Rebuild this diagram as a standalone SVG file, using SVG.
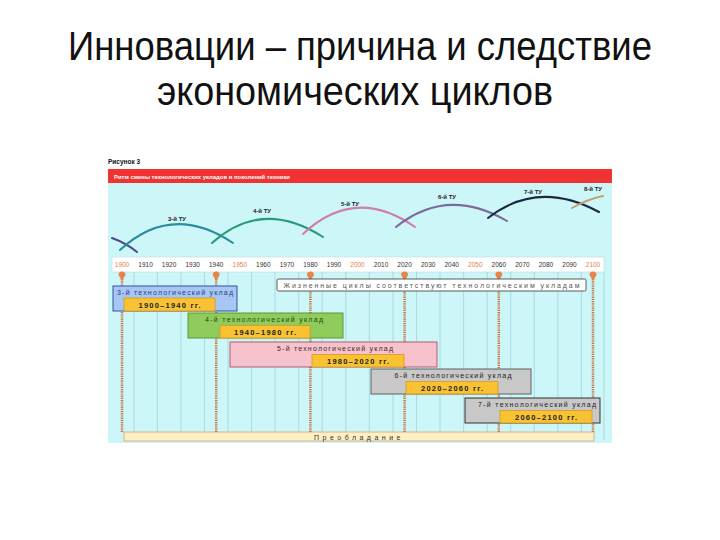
<svg xmlns="http://www.w3.org/2000/svg" width="720" height="540" viewBox="0 0 720 540">
<style>
.title{font-family:"Liberation Sans","DejaVu Sans",sans-serif;font-size:40px;fill:#111}
.sm{font-family:"Liberation Sans","DejaVu Sans",sans-serif}
.yr{font-size:6.5px;fill:#333;text-anchor:middle}
.yo{fill:#e0804a}
.lab{font-size:6px;font-weight:bold;fill:#222;text-anchor:middle}
.bt{font-size:7px;text-anchor:middle}
.per{font-size:7.5px;font-weight:bold;fill:#222;text-anchor:middle}
.inner{fill:#f8c232;stroke:#d89a20;stroke-width:0.8}
.grid{stroke:#9fd4dc;stroke-width:0.8}
.pin{stroke:#c4703c;stroke-width:2.5;stroke-dasharray:1.2 1}
.arc{fill:none;stroke-width:2;stroke-linecap:round}
</style>
<rect width="720" height="540" fill="#fff"/>
<text class="title" x="360" y="60" text-anchor="middle" textLength="584" lengthAdjust="spacingAndGlyphs">Инновации – причина и следствие</text>
<text class="title" x="355" y="105" text-anchor="middle" textLength="396" lengthAdjust="spacingAndGlyphs">экономических циклов</text>

<g id="header">
<text class="sm" x="108" y="164" font-size="6.5" font-weight="bold" fill="#111">Рисунок 3</text>
<rect x="108" y="169" width="504" height="14" fill="#f03232"/>
<text class="sm" x="114" y="179" font-size="6.2" font-weight="bold" fill="#fff" textLength="176" lengthAdjust="spacingAndGlyphs">Ритм смены технологических укладов и поколений техники</text>
</g>
<rect x="108" y="183" width="504" height="260" fill="#ccf6f8"/>

<g id="grid">
<line class="grid" x1="134" y1="272" x2="134" y2="440"/><line class="grid" x1="157.4" y1="272" x2="157.4" y2="440"/><line class="grid" x1="181" y1="272" x2="181" y2="440"/><line class="grid" x1="204.5" y1="272" x2="204.5" y2="440"/><line class="grid" x1="228" y1="272" x2="228" y2="440"/><line class="grid" x1="251.6" y1="272" x2="251.6" y2="440"/><line class="grid" x1="275" y1="272" x2="275" y2="440"/><line class="grid" x1="298.7" y1="272" x2="298.7" y2="440"/><line class="grid" x1="322.2" y1="272" x2="322.2" y2="440"/><line class="grid" x1="345.8" y1="272" x2="345.8" y2="440"/><line class="grid" x1="369.4" y1="272" x2="369.4" y2="440"/><line class="grid" x1="393" y1="272" x2="393" y2="440"/><line class="grid" x1="416.5" y1="272" x2="416.5" y2="440"/><line class="grid" x1="440" y1="272" x2="440" y2="440"/><line class="grid" x1="463.6" y1="272" x2="463.6" y2="440"/><line class="grid" x1="487.2" y1="272" x2="487.2" y2="440"/><line class="grid" x1="510.7" y1="272" x2="510.7" y2="440"/><line class="grid" x1="534.3" y1="272" x2="534.3" y2="440"/><line class="grid" x1="557.9" y1="272" x2="557.9" y2="440"/><line class="grid" x1="581.4" y1="272" x2="581.4" y2="440"/><line class="grid" x1="604" y1="272" x2="604" y2="440"/>
</g>

<g id="years">
<rect x="112" y="257" width="492" height="15" fill="#fff" stroke="#b8dde2" stroke-width="0.6"/>
<g class="sm">
<text class="yr yo" x="122" y="267">1900</text><text class="yr" x="145.6" y="267">1910</text><text class="yr" x="169.1" y="267">1920</text><text class="yr" x="192.7" y="267">1930</text><text class="yr" x="216.2" y="267">1940</text><text class="yr yo" x="239.8" y="267">1950</text><text class="yr" x="263.3" y="267">1960</text><text class="yr" x="286.9" y="267">1970</text><text class="yr" x="310.4" y="267">1980</text><text class="yr" x="334" y="267">1990</text><text class="yr yo" x="357.5" y="267">2000</text><text class="yr" x="381.1" y="267">2010</text><text class="yr" x="404.6" y="267">2020</text><text class="yr" x="428.2" y="267">2030</text><text class="yr" x="451.7" y="267">2040</text><text class="yr yo" x="475.3" y="267">2050</text><text class="yr" x="498.8" y="267">2060</text><text class="yr" x="522.4" y="267">2070</text><text class="yr" x="545.9" y="267">2080</text><text class="yr" x="569.5" y="267">2090</text><text class="yr yo" x="593" y="267">2100</text>
</g>
</g>

<g id="bottom-bar">
<rect x="124" y="432" width="470" height="9" fill="#fdf0c4" stroke="#d8a070" stroke-width="0.8"/>
<text class="sm" x="359" y="439.5" font-size="7" fill="#333" text-anchor="middle" letter-spacing="3.5">Преобладание</text>
</g>

<g id="connectors">
<line class="pin" x1="122" y1="279" x2="122" y2="433"/>
<line class="pin" x1="216.2" y1="279" x2="216.2" y2="433"/>
<line class="pin" x1="310.4" y1="279" x2="310.4" y2="433"/>
<line class="pin" x1="404.6" y1="279" x2="404.6" y2="433"/>
<line class="pin" x1="498.8" y1="279" x2="498.8" y2="433"/>
<line class="pin" x1="593" y1="279" x2="593" y2="433"/>
<g fill="#e8844a">
<path d="M118.5,275 a3.5,3.5 0 1 1 7,0 L122,281 Z"/>
<path d="M212.7,275 a3.5,3.5 0 1 1 7,0 L216.2,281 Z"/>
<path d="M306.9,275 a3.5,3.5 0 1 1 7,0 L310.4,281 Z"/>
<path d="M401.1,275 a3.5,3.5 0 1 1 7,0 L404.6,281 Z"/>
<path d="M495.3,275 a3.5,3.5 0 1 1 7,0 L498.8,281 Z"/>
<path d="M589.5,275 a3.5,3.5 0 1 1 7,0 L593,281 Z"/>
</g>
<path class="arc" stroke="#4a4a8a" d="M112,238 Q126,243 137,252"/>
<path class="arc" stroke="#2a8c9c" d="M120,250 Q172,202 233,243"/>
<path class="arc" stroke="#2a9a7a" d="M212,243 Q262,198 323,237"/>
<path class="arc" stroke="#d07ea8" d="M303,234 Q355,185 415,227"/>
<path class="arc" stroke="#7a6a9c" d="M396,227 Q447,186 507,221"/>
<path class="arc" stroke="#1c2840" d="M488,218 Q538,179 599,212"/>
<path class="arc" stroke="#c0a070" d="M572,208 Q588,199 603,196"/>
</g>

<g id="arc-labels" class="sm">
<text class="lab" x="177" y="221">3-й ТУ</text>
<text class="lab" x="262" y="213">4-й ТУ</text>
<text class="lab" x="350" y="206">5-й ТУ</text>
<text class="lab" x="447" y="199">6-й ТУ</text>
<text class="lab" x="533" y="194">7-й ТУ</text>
<text class="lab" x="593" y="191">8-й ТУ</text>
</g>

<g id="note">
<rect x="277" y="279" width="309" height="12" rx="1.5" fill="#fff" stroke="#333" stroke-width="0.8"/>
<text class="sm bt" x="431.5" y="287.5" fill="#555" textLength="296" lengthAdjust="spacing">Жизненные циклы соответствуют технологическим укладам</text>
</g>

<g id="tu3">
<rect x="113" y="286" width="124" height="25" fill="#a8c6f2" stroke="#3050a0" stroke-width="1"/>
<text class="sm bt" x="175" y="295" fill="#1e3c8c" textLength="116" lengthAdjust="spacing">3-й технологический уклад</text>
<rect class="inner" x="124" y="298" width="91" height="13"/>
<text class="sm per" x="169.5" y="307.5" textLength="62" lengthAdjust="spacing">1900–1940 гг.</text>
</g>
<g id="tu4">
<rect x="188" y="313" width="155" height="25" fill="#90cc5c" stroke="#5a9a34" stroke-width="1"/>
<text class="sm bt" x="264" y="322" fill="#244a14" textLength="118" lengthAdjust="spacing">4-й технологический уклад</text>
<rect class="inner" x="220" y="325.5" width="90" height="12.5"/>
<text class="sm per" x="265" y="334.5" textLength="62" lengthAdjust="spacing">1940–1980 гг.</text>
</g>
<g id="tu5">
<rect x="230" y="342" width="207" height="25" fill="#f8c2cc" stroke="#b05a78" stroke-width="1"/>
<text class="sm bt" x="335" y="351" fill="#3a2a2a" textLength="116" lengthAdjust="spacing">5-й технологический уклад</text>
<rect class="inner" x="312" y="354.5" width="92" height="12.5"/>
<text class="sm per" x="358" y="363.5" textLength="62" lengthAdjust="spacing">1980–2020 гг.</text>
</g>
<g id="tu6">
<rect x="371" y="369" width="160" height="25" fill="#c8c8c8" stroke="#606060" stroke-width="1"/>
<text class="sm bt" x="453" y="378" fill="#222" textLength="117" lengthAdjust="spacing">6-й технологический уклад</text>
<rect class="inner" x="406" y="381.5" width="92" height="12.5"/>
<text class="sm per" x="452" y="390.5" textLength="62" lengthAdjust="spacing">2020–2060 гг.</text>
</g>
<g id="tu7">
<rect x="465" y="398" width="135" height="25" fill="#c8c8c8" stroke="#303030" stroke-width="1"/>
<text class="sm bt" x="537" y="407" fill="#222" textLength="118" lengthAdjust="spacing">7-й технологический уклад</text>
<rect class="inner" x="500" y="410.5" width="92" height="12.5"/>
<text class="sm per" x="546" y="419.5" textLength="62" lengthAdjust="spacing">2060–2100 гг.</text>
</g>
</svg>
